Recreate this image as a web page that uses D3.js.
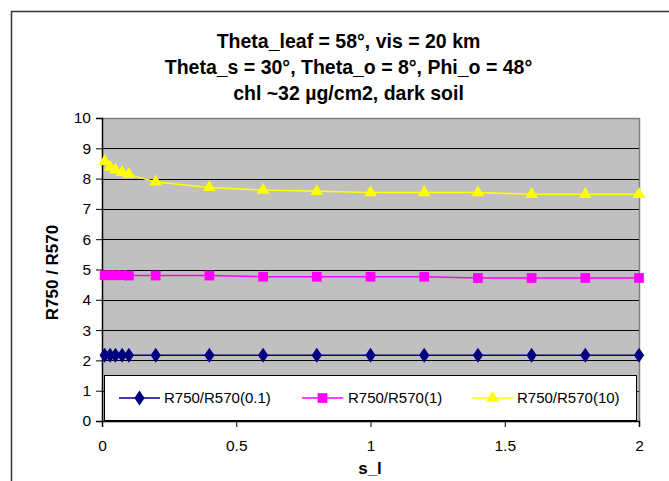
<!DOCTYPE html>
<html>
<head>
<meta charset="utf-8">
<script src="https://cdn.jsdelivr.net/npm/d3@7"></script>
<style>
  html, body { margin: 0; padding: 0; background: #fff; }
  svg { display: block; font-family: Arial, "Liberation Sans", sans-serif; }
</style>
</head>
<body>
<div id="chart"></div>
<script>
// dane
const sValues = [0.01, 0.03, 0.05, 0.075, 0.1, 0.2, 0.4, 0.6, 0.8, 1.0, 1.2, 1.4, 1.6, 1.8, 2.0];
const ratio01 = [2.17, 2.17, 2.17, 2.17, 2.17, 2.17, 2.17, 2.17, 2.17, 2.17, 2.17, 2.17, 2.17, 2.17, 2.17];
const ratio1  = [4.81, 4.81, 4.81, 4.81, 4.80, 4.80, 4.80, 4.76, 4.76, 4.76, 4.76, 4.72, 4.72, 4.72, 4.72];
const ratio10 = [8.57, 8.38, 8.29, 8.21, 8.14, 7.89, 7.71, 7.62, 7.58, 7.54, 7.54, 7.54, 7.48, 7.48, 7.48];
const seriesNames = ["R750/R570(0.1)", "R750/R570(1)", "R750/R570(10)"];
const xTicks = [0, 0.5, 1, 1.5, 2];
const yTicks = [0, 1, 2, 3, 4, 5, 6, 7, 8, 9, 10];
const titleLines = [
    "Theta_leaf = 58°, vis = 20 km",
    "Theta_s = 30°, Theta_o = 8°, Phi_o = 48°",
    "chl ~32 µg/cm2, dark soil"
];

const width = 669, height = 481;
const plot = { left: 102, top: 118, right: 639, bottom: 421 };

const svg = d3.select("#chart").append("svg")
    .attr("width", width)
    .attr("height", height);

// ramka całego wykresu
svg.append("rect")
    .attr("x", 11.5).attr("y", 11.5)
    .attr("width", 720).attr("height", 520)
    .attr("fill", "#fff")
    .attr("stroke", "#333")
    .attr("stroke-width", 1.5);

const x = d3.scaleLinear().domain([0, 2]).range([plot.left, plot.right]);
const y = d3.scaleLinear().domain([0, 10]).range([plot.bottom, plot.top]);

// tło obszaru wykresu
svg.append("rect")
    .attr("x", plot.left).attr("y", plot.top)
    .attr("width", plot.right - plot.left)
    .attr("height", plot.bottom - plot.top)
    .attr("fill", "#c0c0c0");

// linie siatki
svg.append("g")
    .selectAll("line")
    .data(yTicks.filter(d => d > 0 && d < 10))
    .enter().append("line")
    .attr("x1", plot.left).attr("x2", plot.right)
    .attr("y1", d => Math.round(y(d)) + 0.5)
    .attr("y2", d => Math.round(y(d)) + 0.5)
    .attr("stroke", "#000")
    .attr("stroke-width", 1);

// górna i prawa krawędź
svg.append("path")
    .attr("d", `M${plot.left},${plot.top + 0.5}H${plot.right + 0.5}V${plot.bottom}`)
    .attr("fill", "none")
    .attr("stroke", "#808080")
    .attr("stroke-width", 1.5);

// osie
const yAxis = svg.append("g")
    .attr("transform", `translate(${plot.left},0)`)
    .call(d3.axisLeft(y).tickValues(yTicks).tickSize(6).tickPadding(5).tickFormat(d3.format("d")));
const xAxis = svg.append("g")
    .attr("transform", `translate(0,${plot.bottom})`)
    .call(d3.axisBottom(x).tickValues(xTicks).tickSize(6).tickPadding(13).tickFormat(d => d));

[yAxis, xAxis].forEach(g => {
    g.select(".domain").attr("stroke", "#000").attr("stroke-width", 1.5);
    g.selectAll(".tick line").attr("stroke", "#000");
    g.selectAll(".tick text")
        .attr("fill", "#000")
        .attr("font-size", "15.5px")
        .attr("font-family", "Arial, 'Liberation Sans', sans-serif");
});

// legenda (w dolnej części obszaru wykresu)
const legend = { x: 104, y: 375, w: 532, h: 46 };
svg.append("rect")
    .attr("x", legend.x + 0.5).attr("y", legend.y + 0.5)
    .attr("width", legend.w).attr("height", legend.h - 1)
    .attr("fill", "#fff")
    .attr("stroke", "#000")
    .attr("stroke-width", 1);

// serie
const series = [
    { name: seriesNames[0], values: ratio01, color: "#000080", symbol: d3.symbolDiamond, size: 70 },
    { name: seriesNames[1], values: ratio1,  color: "#ff00ff", symbol: d3.symbolSquare,  size: 95 },
    { name: seriesNames[2], values: ratio10, color: "#ffff00", symbol: d3.symbolTriangle, size: 70 }
];

const line = d3.line()
    .x((d, i) => x(sValues[i]))
    .y(d => y(d));

series.forEach(s => {
    const g = svg.append("g");
    g.append("path")
        .attr("d", line(s.values))
        .attr("fill", "none")
        .attr("stroke", s.color)
        .attr("stroke-width", 1.5);
    const sym = d3.symbol().type(s.symbol).size(s.size);
    g.selectAll("path.m")
        .data(s.values)
        .enter().append("path")
        .attr("class", "m")
        .attr("d", sym)
        .attr("transform", (d, i) => `translate(${x(sValues[i])},${y(d)})${s.symbol === d3.symbolDiamond ? " scale(1.15,0.95)" : ""}`)
        .attr("fill", s.color);
});

// wpisy legendy
const legendItems = [
    { lx: 119, tx: 164 },
    { lx: 302, tx: 348 },
    { lx: 472, tx: 517 }
];
series.forEach((s, i) => {
    const it = legendItems[i];
    const cy = 398;
    svg.append("line")
        .attr("x1", it.lx).attr("x2", it.lx + 41)
        .attr("y1", cy).attr("y2", cy)
        .attr("stroke", s.color).attr("stroke-width", 1.5);
    svg.append("path")
        .attr("d", d3.symbol().type(s.symbol).size(s.size)())
        .attr("transform", `translate(${it.lx + 20.5},${cy})${s.symbol === d3.symbolDiamond ? " scale(1.15,0.95)" : ""}`)
        .attr("fill", s.color);
    svg.append("text")
        .attr("x", it.tx).attr("y", cy + 5)
        .attr("font-size", "15px")
        .attr("fill", "#000")
        .text(s.name);
});

// tytuł
svg.append("g")
    .selectAll("text")
    .data(titleLines)
    .enter().append("text")
    .attr("x", 348.5)
    .attr("y", (d, i) => 48 + i * 26)
    .attr("text-anchor", "middle")
    .attr("font-size", "19.5px")
    .attr("font-weight", "bold")
    .attr("fill", "#000")
    .text(d => d);

// opisy osi
svg.append("text")
    .attr("transform", "translate(58,272.5) rotate(-90)")
    .attr("text-anchor", "middle")
    .attr("font-size", "17px")
    .attr("font-weight", "bold")
    .attr("fill", "#000")
    .text("R750 / R570");

svg.append("text")
    .attr("x", 370).attr("y", 474)
    .attr("text-anchor", "middle")
    .attr("font-size", "17px")
    .attr("font-weight", "bold")
    .attr("fill", "#000")
    .text("s_l");
</script>
</body>
</html>
